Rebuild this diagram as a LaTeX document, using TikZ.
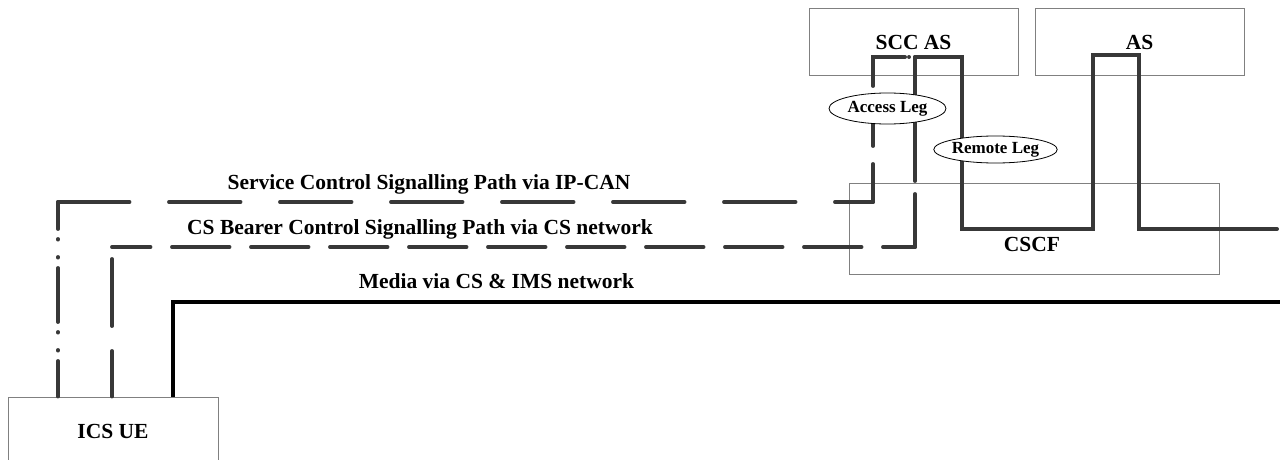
\documentclass[tikz,border=0pt]{standalone}
\usepackage{fontspec}
\setmainfont{Liberation Serif}
\usepackage{tikz}
\usetikzlibrary{shapes.geometric}
\definecolor{boxgray}{HTML}{808080}
\definecolor{pathgray}{HTML}{383838}

\begin{document}
\begin{tikzpicture}[x=1pt, y=-1pt,
    box/.style={draw=boxgray, line width=1pt, rectangle, inner sep=0pt, font=\fontsize{21.5}{25}\selectfont\bfseries},
    pathlabel/.style={anchor=base, inner sep=0pt, font=\fontsize{21.5}{25}\selectfont\bfseries},
    leg/.style={ellipse, draw, line width=0.8pt, fill=white, inner sep=0pt, font=\fontsize{17}{20}\selectfont\bfseries},
    sig/.style={draw=pathgray, line width=3.9pt, line cap=round, line join=miter},
    media/.style={draw=black, line width=3.4pt, line join=miter}]

    \useasboundingbox (0,0) rectangle (1280,460);

    % network elements
    \node[box, minimum width=210, minimum height=68] (ue) at (113,431) {ICS UE};
    \node[box, minimum width=209, minimum height=67] (sccas) at (913.5,42.5) {SCC AS};
    \node[box, minimum width=209, minimum height=67] (as) at (1139.5,42.5) {AS};
    \node[box, minimum width=370, minimum height=91] (cscf) at (1034,228.5) {};
    \node[box, draw=none] (cscftext) at (1032,244) {CSCF};

    % bends of the paths
    \coordinate (sc1) at (58,202);
    \coordinate (sc2) at (873,202);
    \coordinate (sc3) at (873,57);
    \coordinate (sc4) at (909,57);
    \coordinate (cs1) at (112,247);
    \coordinate (cs2) at (915,247);
    \coordinate (cs3) at (915,57);
    \coordinate (rl1) at (962,57);
    \coordinate (rl2) at (962,229);
    \coordinate (rl3) at (1093,229);
    \coordinate (rl4) at (1093,55);
    \coordinate (rl5) at (1139,55);
    \coordinate (rl6) at (1139,229);
    \coordinate (rlend) at (1277,229);
    \coordinate (md1) at (173,302);
    \coordinate (mdend) at (1280,302);

    % service control signalling via IP-CAN
    \draw[sig, dash pattern=on 54 off 10 on 0.6 off 17.4 on 0.6 off 10.4, dash phase=27] (sc1) -- (sc1 |- ue.north);
    \draw[sig, dash pattern=on 71.5 off 39.5] (sc1) -- (sc2);
    \draw[sig, dash pattern=on 38 off 18 on 30 off 30 on 61 off 4 on 0.6 off 20] (sc2) -- (sc3) -- (sc4);

    % CS bearer control signalling
    \draw[sig, dash pattern=on 67 off 25, dash phase=80] (cs1) -- (cs1 |- ue.north);
    \draw[sig, dash pattern=on 57.5 off 21.5, dash phase=19] (cs1) -- (cs2);
    \draw[sig, dash pattern=on 53 off 13 on 300 off 1] (cs2) -- (cs3);

    % remote leg
    \draw[sig] (cs3) -- (rl1) -- (rl2) -- (rl3) -- (rl4) -- (rl5) -- (rl6) -- (rlend);

    % media
    \draw[media] (md1 |- ue.north) -- (md1) -- (mdend);

    \node[leg, minimum width=117, minimum height=31] (access) at (887.5,108.5) {Access Leg};
    \node[leg, minimum width=115, minimum height=27] (remote) at (995.5,149.5) {Remote Leg};

    \node[pathlabel] (sclabel) at (429,189) {Service Control Signalling Path via IP-CAN};
    \node[pathlabel] (cslabel) at (420,234) {CS Bearer Control Signalling Path via CS network};
    \node[pathlabel] (mdlabel) at (496.5,288) {Media via CS \& IMS network};
\end{tikzpicture}
\end{document}
